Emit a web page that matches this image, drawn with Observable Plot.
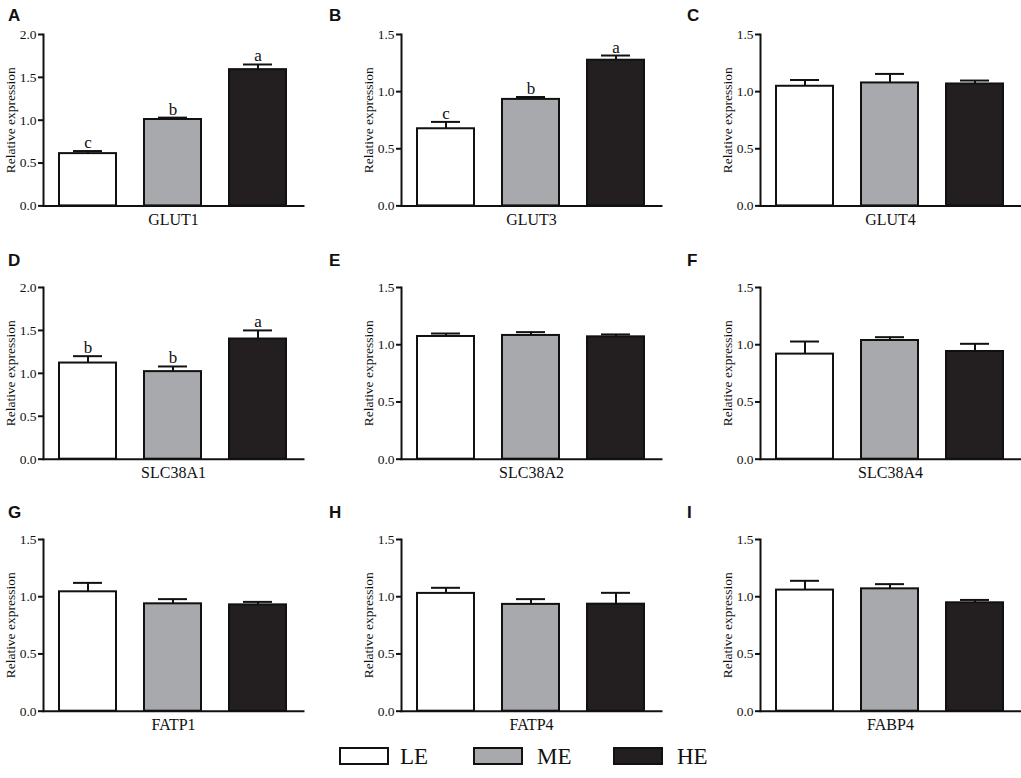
<!DOCTYPE html>
<html>
<head>
<meta charset="utf-8">
<script src="https://cdn.jsdelivr.net/npm/d3@7"></script>
<script src="https://cdn.jsdelivr.net/npm/@observablehq/plot@0.6"></script>
<style>
  html, body { margin: 0; padding: 0; background: #fff; }
  #fig { position: relative; width: 1021px; height: 778px; background: #fff; overflow: hidden; }
  .panel { position: absolute; }
  #fig svg text { font-family: "Liberation Serif", "Times New Roman", serif !important; }
  #fig svg g[aria-label="y-axis tick label"] { font-size: 13.5px !important; }
  #fig svg g[aria-label="y-axis label"] { font-size: 13.5px !important; }
  .plab { position: absolute; font-family: "Liberation Sans", Arial, sans-serif; font-weight: bold; font-size: 17px; line-height: 17px; color: #111; }
  .lbox { position: absolute; width: 46px; height: 14px; border: 2px solid #111; }
  .ltxt { position: absolute; font-family: "Liberation Serif", "Times New Roman", serif; font-size: 23px; line-height: 23px; color: #111; }
</style>
</head>
<body>
<div id="fig"></div>
<script>
// ---- data ----
const genes = ["GLUT1", "GLUT3", "GLUT4", "SLC38A1", "SLC38A2", "SLC38A4", "FATP1", "FATP4", "FABP4"];
const panelLetters = ["A", "B", "C", "D", "E", "F", "G", "H", "I"];
const groups = ["LE", "ME", "HE"];
const groupFills = ["#ffffff", "#a7a9ac", "#231f20"];

const leValues = [0.61, 0.675, 1.047, 1.12, 1.072, 0.918, 1.043, 1.029, 1.058];
const leErrors = [0.03, 0.06, 0.055, 0.08, 0.026, 0.11, 0.078, 0.049, 0.081];
const meValues = [1.008, 0.932, 1.076, 1.02, 1.081, 1.037, 0.938, 0.933, 1.069];
const meErrors = [0.022, 0.021, 0.079, 0.06, 0.029, 0.029, 0.041, 0.046, 0.041];
const heValues = [1.59, 1.275, 1.067, 1.40, 1.069, 0.941, 0.929, 0.935, 0.947];
const heErrors = [0.06, 0.041, 0.03, 0.10, 0.021, 0.067, 0.026, 0.099, 0.025];

const leLetters = ["c", "c", "", "b", "", "", "", "", ""];
const meLetters = ["b", "b", "", "b", "", "", "", "", ""];
const heLetters = ["a", "a", "", "a", "", "", "", "", ""];

const yMaxes = [2.0, 1.5, 1.5, 2.0, 1.5, 1.5, 1.5, 1.5, 1.5];
const ticksTo2 = [0, 0.5, 1.0, 1.5, 2.0];
const ticksTo15 = [0, 0.5, 1.0, 1.5];
const yLabel = "Relative expression";

// ---- layout ----
const serif = "'Liberation Serif', 'Times New Roman', serif";
const colAxisX = [42.5, 401, 759.5];
const rowTop = [34.3, 286.7, 539.3];
const rowBottom = [205.7, 458.4, 711];
const letterLeft = [8, 329, 687];
const letterTop = [7, 252, 504];
const plotW = 260;
const ML = 45, MR = 4, MT = 14, MB = 34;

const fig = document.getElementById("fig");

genes.forEach((gene, i) => {
  const r = Math.floor(i / 3), c = i % 3;
  const data = groups.map((g, k) => {
    const v = [leValues, meValues, heValues][k][i];
    const e = [leErrors, meErrors, heErrors][k][i];
    const l = [leLetters, meLetters, heLetters][k][i];
    return {group: g, value: v, upper: v + e, letter: l};
  });
  const plotH = rowBottom[r] - rowTop[r];
  const svg = Plot.plot({
    width: ML + plotW + MR,
    height: MT + plotH + MB,
    marginLeft: ML, marginRight: MR, marginTop: MT, marginBottom: MB,
    style: "font-family: 'Liberation Serif', 'Times New Roman', serif; font-size: 13px; color: #111; background: transparent; overflow: visible;",
    x: {domain: groups, paddingInner: 0.326, paddingOuter: 0.175, axis: null},
    y: {domain: [0, yMaxes[i]], axis: null},
    color: {domain: groups, range: groupFills},
    marks: [
      Plot.barY(data, {x: "group", y: "value", fill: "group", stroke: "#111", strokeWidth: 2}),
      Plot.ruleX(data, {x: "group", y1: "value", y2: "upper", stroke: "#111", strokeWidth: 2}),
      Plot.tickY(data, {x: "group", y: "upper", stroke: "#111", strokeWidth: 2, inset: 14}),
      Plot.text(data, {x: "group", y: "upper", text: "letter", lineAnchor: "bottom", dy: -3, fontSize: 17, fontFamily: serif, fill: "#111"}),
      Plot.axisY({ticks: yMaxes[i] === 2 ? ticksTo2 : ticksTo15, tickFormat: d3.format(".1f"), tickSize: 5, tickPadding: 2, strokeWidth: 2, fontSize: 13.5, fontFamily: serif,
                  label: yLabel, labelAnchor: "center", labelArrow: "none", labelOffset: 38}),
      Plot.frame({anchor: "left", stroke: "#111", strokeWidth: 2}),
      Plot.frame({anchor: "bottom", stroke: "#111", strokeWidth: 2}),
      Plot.text([gene], {frameAnchor: "bottom", dy: 19, fontSize: 16, fontFamily: serif, fill: "#111"})
    ]
  });
  svg.classList.add("panel");
  svg.style.left = (colAxisX[c] - ML) + "px";
  svg.style.top = (rowTop[r] - MT) + "px";
  fig.appendChild(svg);

  const lab = document.createElement("div");
  lab.className = "plab";
  lab.textContent = panelLetters[i];
  lab.style.left = letterLeft[c] + "px";
  lab.style.top = letterTop[r] + "px";
  fig.appendChild(lab);
});

// ---- legend ----
const legendBoxLeft = [339, 473, 613];
const legendTextLeft = [400, 537, 677];
groups.forEach((g, k) => {
  const box = document.createElement("div");
  box.className = "lbox";
  box.style.left = legendBoxLeft[k] + "px";
  box.style.top = "747px";
  box.style.background = groupFills[k];
  fig.appendChild(box);
  const t = document.createElement("div");
  t.className = "ltxt";
  t.textContent = g;
  t.style.left = legendTextLeft[k] + "px";
  t.style.top = "745px";
  fig.appendChild(t);
});
</script>
</body>
</html>
